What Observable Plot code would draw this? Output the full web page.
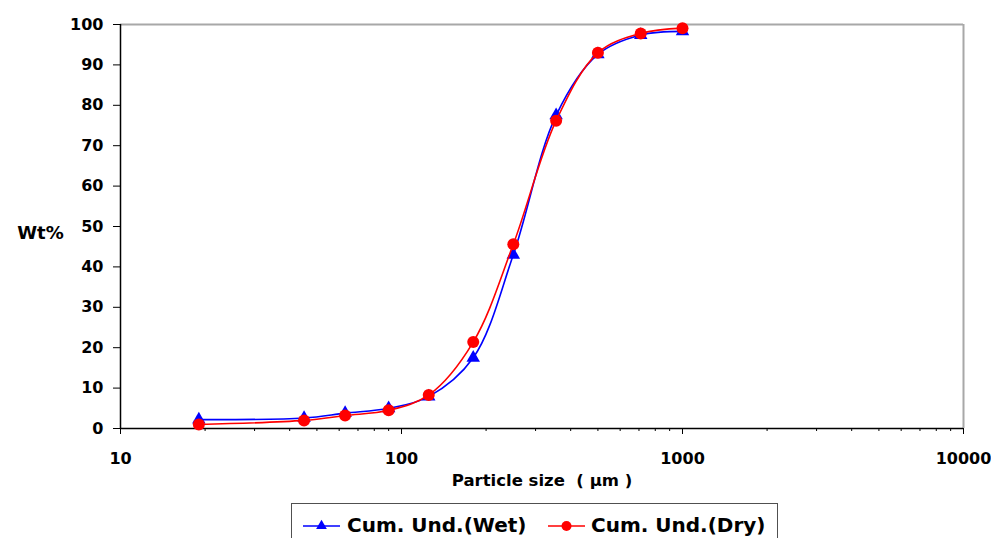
<!DOCTYPE html>
<html>
<head>
<meta charset="utf-8">
<script src="https://cdn.jsdelivr.net/npm/d3@7"></script>
<script src="https://cdn.jsdelivr.net/npm/@observablehq/plot@0.6"></script>
<style>
  html, body { margin: 0; padding: 0; background: white; }
  #wrap { position: relative; width: 991px; height: 538px; overflow: hidden; font-family: "DejaVu Sans", sans-serif; }
  #legend { position: absolute; left: 291px; top: 503px; width: 487px; height: 50px; border: 1.5px solid #505050; box-sizing: border-box; background: white; }
  #legend .sw { position: absolute; top: 12px; }
  #legend .lab { position: absolute; top: 9px; font-size: 20px; font-weight: bold; color: black; white-space: nowrap; line-height: 24px; }
</style>
</head>
<body>
<div id="wrap">
  <div id="chart"></div>
  <div id="legend"></div>
</div>
<script>
// Sieve sizes (µm) and cumulative undersize (wt%)
const sizes = [19, 45, 63, 90, 125, 180, 250, 355, 500, 710, 1000];
const wetValues = [2.2, 2.6, 3.8, 5.0, 7.9, 17.5, 43.0, 77.5, 92.6, 97.4, 98.3];
const dryValues = [1.0, 2.0, 3.2, 4.5, 8.3, 21.4, 45.6, 76.2, 93.0, 97.8, 99.1];

const seriesNames = ["Cum. Und.(Wet)", "Cum. Und.(Dry)"];
const seriesColors = ["#0000ff", "#ff0000"];

const xMajorTicks = [10, 100, 1000, 10000];
const yTicks = [0, 10, 20, 30, 40, 50, 60, 70, 80, 90, 100];

// minor log ticks 2..9 within each decade
const xMinorTicks = [];
for (const d of [10, 100, 1000]) for (let k = 2; k <= 9; k++) xMinorTicks.push(d * k);

const wet = sizes.map((s, i) => ({size: s, wt: wetValues[i]}));
const dry = sizes.map((s, i) => ({size: s, wt: dryValues[i]}));

const chart = Plot.plot({
  width: 991,
  height: 500,
  marginLeft: 120,
  marginRight: 28,
  marginTop: 24,
  marginBottom: 72,
  style: {
    fontFamily: "'DejaVu Sans', sans-serif",
    fontSize: "16px",
    fontWeight: "bold",
    color: "black",
    background: "white",
    overflow: "visible"
  },
  x: {type: "log", domain: [10, 10000]},
  y: {domain: [0, 100]},
  marks: [
    // plot-area border (top and right)
    Plot.ruleY([100], {stroke: "#a8a8a8", strokeWidth: 2}),
    Plot.ruleX([10000], {stroke: "#a8a8a8", strokeWidth: 2}),
    Plot.axisY({ticks: yTicks, tickSize: 7, tickPadding: 10, label: null, stroke: "black", strokeOpacity: 1}),
    Plot.axisX({ticks: xMinorTicks, tickSize: 3, tickFormat: () => "", label: null, stroke: "black", strokeOpacity: 1}),
    Plot.axisX({ticks: xMajorTicks, tickSize: 6, tickPadding: 18, tickFormat: d => String(d), label: null, stroke: "black", strokeOpacity: 1}),
    Plot.ruleX([10], {stroke: "black", strokeWidth: 1.5}),
    Plot.ruleY([0], {stroke: "black", strokeWidth: 1.5}),
    // series
    Plot.line(wet, {x: "size", y: "wt", stroke: seriesColors[0], strokeWidth: 1.6, curve: "catmull-rom"}),
    Plot.dot(wet, {x: "size", y: "wt", symbol: "triangle", r: 5, fill: seriesColors[0], stroke: "none"}),
    Plot.line(dry, {x: "size", y: "wt", stroke: seriesColors[1], strokeWidth: 1.6, curve: "catmull-rom"}),
    Plot.dot(dry, {x: "size", y: "wt", r: 6, fill: seriesColors[1], stroke: "none"}),
    // axis titles
    Plot.text(["Wt%"], {frameAnchor: "left", dx: -80, dy: 7, textAnchor: "middle", fontSize: 18, fontWeight: "bold", fill: "black"}),
    Plot.text(["Particle size \u00a0( µm )"], {frameAnchor: "bottom", dy: 57, textAnchor: "middle", fontSize: 16.5, fontWeight: "bold", fill: "black"})
  ]
});
document.getElementById("chart").appendChild(chart);

// legend below the chart
const legend = document.getElementById("legend");
const swatchLeft = [11, 256];
const labelLeft = [55, 299];
seriesNames.forEach((name, i) => {
  const ns = "http://www.w3.org/2000/svg";
  const sw = document.createElementNS(ns, "svg");
  sw.setAttribute("width", 38);
  sw.setAttribute("height", 20);
  sw.setAttribute("class", "sw");
  sw.style.left = swatchLeft[i] + "px";
  const ln = document.createElementNS(ns, "line");
  ln.setAttribute("x1", 0); ln.setAttribute("x2", 37);
  ln.setAttribute("y1", 10); ln.setAttribute("y2", 10);
  ln.setAttribute("stroke", seriesColors[i]);
  ln.setAttribute("stroke-width", 1.5);
  sw.appendChild(ln);
  if (i === 0) {
    const tri = document.createElementNS(ns, "path");
    tri.setAttribute("d", d3.symbol(d3.symbolTriangle, 50)());
    tri.setAttribute("transform", "translate(18.5,10)");
    tri.setAttribute("fill", seriesColors[i]);
    sw.appendChild(tri);
  } else {
    const c = document.createElementNS(ns, "circle");
    c.setAttribute("cx", 18.5); c.setAttribute("cy", 10); c.setAttribute("r", 5);
    c.setAttribute("fill", seriesColors[i]);
    sw.appendChild(c);
  }
  legend.appendChild(sw);
  const lab = document.createElement("span");
  lab.className = "lab";
  lab.style.left = labelLeft[i] + "px";
  lab.textContent = name;
  legend.appendChild(lab);
});
</script>
</body>
</html>
